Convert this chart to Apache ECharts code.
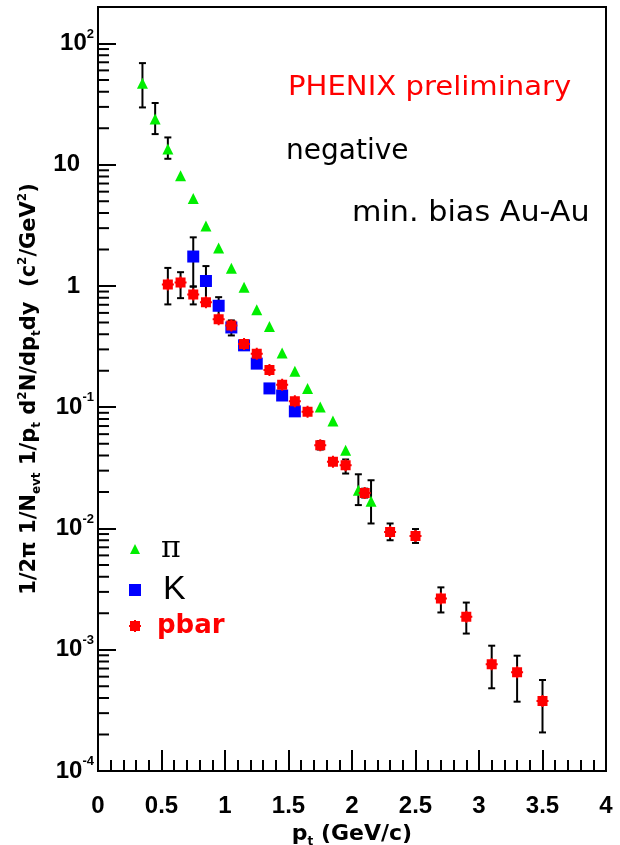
<!DOCTYPE html>
<html>
<head>
<meta charset="utf-8">
<script src="https://cdn.jsdelivr.net/npm/echarts@6/dist/echarts.min.js"></script>
<style>
  html, body { margin: 0; padding: 0; background: #fff; }
  #chart { width: 620px; height: 845px; }
</style>
</head>
<body>
<div id="chart"></div>
<script>
// Negative hadron pT spectra, minimum-bias Au-Au (PHENIX preliminary)

// pi-
const pionPt = [0.35, 0.45, 0.55, 0.65, 0.75, 0.85, 0.95, 1.05, 1.15, 1.25,
                1.35, 1.45, 1.55, 1.65, 1.75, 1.85, 1.95, 2.05, 2.15];
const pionYield = [46.9, 23.8, 13.5, 8.13, 5.26, 3.13, 2.06, 1.40, 0.977, 0.638,
                   0.463, 0.280, 0.198, 0.143, 0.1005, 0.0769, 0.0442, 0.0207, 0.0168];
const pionErrLow = [29.7, 17.9, 11.2, null, null, null, null, null, null, null,
                    null, null, null, null, null, null, null, 0.0156, 0.011];
const pionErrHigh = [68.9, 32.3, 16.8, null, null, null, null, null, null, null,
                     null, null, null, null, null, null, null, 0.028, 0.025];

// K-
const kaonPt = [0.75, 0.85, 0.95, 1.05, 1.15, 1.25, 1.35, 1.45, 1.55];
const kaonYield = [1.75, 1.10, 0.687, 0.455, 0.324, 0.229, 0.143, 0.125, 0.0925];
const kaonErrLow = [0.99, 0.74, 0.565, 0.391, null, null, null, null, null];
const kaonErrHigh = [2.52, 1.46, 0.809, 0.52, null, null, null, null, null];

// anti-proton
const pbarPt = [0.55, 0.65, 0.75, 0.85, 0.95, 1.05, 1.15, 1.25, 1.35, 1.45, 1.55, 1.65,
                1.75, 1.85, 1.95, 2.1, 2.3, 2.5, 2.7, 2.9, 3.1, 3.3, 3.5];
const pbarYield = [1.03, 1.07, 0.851, 0.733, 0.533, 0.473, 0.332, 0.276, 0.203, 0.153, 0.112, 0.0920,
                   0.0485, 0.0356, 0.0332, 0.0196, 0.00937, 0.00869, 0.00265, 0.00187, 0.000759, 0.000652, 0.000378];
const pbarErrLow = [0.705, 0.794, 0.705, null, null, null, null, null, null, null, null, null,
                    0.0448, 0.0337, 0.0284, 0.0180, 0.0080, 0.0076, 0.00203, 0.00136, 0.000481, 0.000373, 0.000208];
const pbarErrHigh = [1.41, 1.30, 0.99, null, null, null, null, null, null, null, null, null,
                     0.0525, 0.0375, 0.0371, 0.0213, 0.011, 0.0099, 0.00327, 0.00245, 0.00108, 0.000893, 0.000563];

// axis ranges and tick labels
const xRange = [0, 4];
const yRange = [1e-4, 200];
const yDecadeLabels = { '-4': '10{s|-4}', '-3': '10{s|-3}', '-2': '10{s|-2}', '-1': '10{s|-1}',
                        '0': '{p|1}', '1': '{p|10}', '2': '10{s|2}' };

const FONT = 'DejaVu Sans';
const TICK_FONT = 'Liberation Sans';
const BLACK = '#000';

function points(xs, ys) {
  return xs.map((x, i) => [x, ys[i]]);
}
function errorRows(xs, lo, hi) {
  const rows = [];
  xs.forEach((x, i) => { if (lo[i] != null) rows.push([x, lo[i], hi[i]]); });
  return rows;
}

// minor log ticks (2..9 x 10^k) along the left axis
const yMinorTicks = [];
for (let k = -4; k <= 1; k++) {
  for (let m = 2; m <= 9; m++) yMinorTicks.push([0, m * Math.pow(10, k)]);
}

function renderErrorBar(params, api) {
  const x = api.value(0);
  const top = api.coord([x, api.value(2)]);
  const bot = api.coord([x, api.value(1)]);
  const w = 3.5;
  const st = { stroke: BLACK, lineWidth: 2 };
  return {
    type: 'group',
    children: [
      { type: 'line', shape: { x1: top[0], y1: top[1], x2: bot[0], y2: bot[1] }, style: st },
      { type: 'line', shape: { x1: top[0] - w, y1: top[1], x2: top[0] + w, y2: top[1] }, style: st },
      { type: 'line', shape: { x1: bot[0] - w, y1: bot[1], x2: bot[0] + w, y2: bot[1] }, style: st }
    ]
  };
}

function renderMinorTick(params, api) {
  const p = api.coord([api.value(0), api.value(1)]);
  return {
    type: 'line',
    shape: { x1: p[0], y1: p[1], x2: p[0] + 11, y2: p[1] },
    style: { stroke: BLACK, lineWidth: 2 }
  };
}

const pbarSymbol = 'path://M1,1H5V0H7V1H11V5H12V7H11V11H7V12H5V11H1V7H0V5H1Z';

// one legend block per species: icon centred at iconX, label starting at textX
function legendBox(name, iconX, centerY, iconSize, textX, style) {
  const left = iconX - iconSize / 2;
  return {
    data: [name],
    orient: 'vertical',
    left: left,
    top: centerY - 15,
    padding: 0,
    itemWidth: iconSize,
    itemHeight: iconSize,
    selectedMode: false,
    textStyle: Object.assign({ lineHeight: 30, padding: [0, 0, 0, textX - (left + iconSize + 5)] }, style)
  };
}

const chart = echarts.init(document.getElementById('chart'), null, { renderer: 'canvas' });

chart.setOption({
  animation: false,
  backgroundColor: '#fff',
  grid: {
    left: 98, right: 14, top: 7, bottom: 74,
    containLabel: false,
    outerBoundsMode: 'none',
    show: true, borderColor: BLACK, borderWidth: 2, backgroundColor: 'transparent'
  },
  legend: [
    legendBox('π', 135, 549, 10, 161, { fontFamily: 'DejaVu Serif', fontSize: 30, color: BLACK }),
    legendBox('K', 135, 588, 12, 163, { fontFamily: 'Liberation Sans', fontSize: 34, color: BLACK }),
    legendBox('pbar', 135, 626, 12, 157, { fontFamily: FONT, fontWeight: 'bold', fontSize: 26, color: '#ff0000' })
  ],
  xAxis: {
    type: 'value',
    min: xRange[0], max: xRange[1], interval: 0.5,
    name: '{n|p}{t|t}{n| (GeV/c)}',
    nameLocation: 'middle',
    nameGap: 44,
    nameTextStyle: {
      rich: {
        n: { fontFamily: FONT, fontWeight: 'bold', fontSize: 22, color: BLACK, lineHeight: 28 },
        t: { fontFamily: FONT, fontWeight: 'bold', fontSize: 12, color: BLACK, lineHeight: 14, verticalAlign: 'bottom' }
      }
    },
    axisLine: { show: true, lineStyle: { color: BLACK, width: 2 } },
    axisTick: { show: true, inside: true, length: 21, lineStyle: { color: BLACK, width: 2 } },
    minorTick: { show: true, splitNumber: 5, length: 11, lineStyle: { color: BLACK, width: 2 } },
    axisLabel: { margin: 23, fontFamily: TICK_FONT, fontWeight: 'bold', fontSize: 24, color: BLACK },
    splitLine: { show: false },
    minorSplitLine: { show: false }
  },
  yAxis: {
    type: 'log',
    logBase: 10,
    min: yRange[0], max: yRange[1],
    splitNumber: 6,
    name: '{a|1/2π 1/N}{b|evt}{a| 1/p}{b|t}{a| d}{c|2}{a|N/dp}{b|t}{a|dy  (c}{c|2}{a|/GeV}{c|2}{a|)}',
    nameLocation: 'middle',
    nameRotate: 90,
    nameGap: 47,
    nameTextStyle: {
      rich: {
        a: { fontFamily: FONT, fontWeight: 'bold', fontSize: 21, color: BLACK, lineHeight: 26 },
        b: { fontFamily: FONT, fontWeight: 'bold', fontSize: 12, color: BLACK, lineHeight: 13, verticalAlign: 'bottom' },
        c: { fontFamily: FONT, fontWeight: 'bold', fontSize: 12, color: BLACK, lineHeight: 13, verticalAlign: 'top' }
      }
    },
    axisLine: { show: true, lineStyle: { color: BLACK, width: 2 } },
    axisTick: { show: true, inside: true, length: 18, lineStyle: { color: BLACK, width: 2 } },
    axisLabel: {
      margin: 4,
      color: BLACK,
      fontFamily: TICK_FONT, fontWeight: 'bold', fontSize: 24, lineHeight: 32,
      formatter: function (v) {
        const e = Math.log10(v);
        const r = Math.round(e);
        if (Math.abs(e - r) > 1e-6) return '';
        return yDecadeLabels[String(r)] || '';
      },
      rich: {
        p: { fontFamily: TICK_FONT, fontWeight: 'bold', fontSize: 24, color: BLACK, lineHeight: 32, padding: [0, 14, 0, 0] },
        s: { fontFamily: TICK_FONT, fontWeight: 'bold', fontSize: 13, color: BLACK, lineHeight: 13, verticalAlign: 'top' }
      }
    },
    splitLine: { show: false }
  },
  graphic: [
    {
      type: 'text', x: 288, y: 88, scaleX: 1.12, silent: true,
      style: { text: 'PHENIX preliminary', fill: '#ff0000', font: '26px "DejaVu Sans"', align: 'left', verticalAlign: 'middle' }
    },
    {
      type: 'text', x: 286, y: 152, silent: true,
      style: { text: 'negative', fill: BLACK, font: '28px "DejaVu Sans"', align: 'left', verticalAlign: 'middle' }
    },
    {
      type: 'text', x: 352, y: 214, scaleX: 1.08, silent: true,
      style: { text: 'min. bias Au-Au', fill: BLACK, font: '28px "DejaVu Sans"', align: 'left', verticalAlign: 'middle' }
    }
  ],
  series: [
    {
      type: 'custom', name: 'yMinorTicks', silent: true, z: 5,
      renderItem: renderMinorTick, data: yMinorTicks, encode: { x: 0, y: 1 }
    },
    {
      type: 'custom', name: 'pionErr', silent: true, z: 2,
      renderItem: renderErrorBar, data: errorRows(pionPt, pionErrLow, pionErrHigh), encode: { x: 0, y: [1, 2] }
    },
    {
      type: 'custom', name: 'kaonErr', silent: true, z: 2,
      renderItem: renderErrorBar, data: errorRows(kaonPt, kaonErrLow, kaonErrHigh), encode: { x: 0, y: [1, 2] }
    },
    {
      type: 'custom', name: 'pbarErr', silent: true, z: 2,
      renderItem: renderErrorBar, data: errorRows(pbarPt, pbarErrLow, pbarErrHigh), encode: { x: 0, y: [1, 2] }
    },
    {
      type: 'scatter', name: 'π', z: 3, silent: true,
      symbol: 'triangle', symbolSize: 11,
      itemStyle: { color: '#00ee00', opacity: 1 },
      data: points(pionPt, pionYield)
    },
    {
      type: 'scatter', name: 'K', z: 4, silent: true,
      symbol: 'rect', symbolSize: 12,
      itemStyle: { color: '#0000ff', opacity: 1 },
      data: points(kaonPt, kaonYield)
    },
    {
      type: 'scatter', name: 'pbar', z: 5, silent: true,
      symbol: pbarSymbol, symbolSize: 12,
      itemStyle: { color: '#ff0000', opacity: 1 },
      data: points(pbarPt, pbarYield)
    }
  ]
});
</script>
</body>
</html>
